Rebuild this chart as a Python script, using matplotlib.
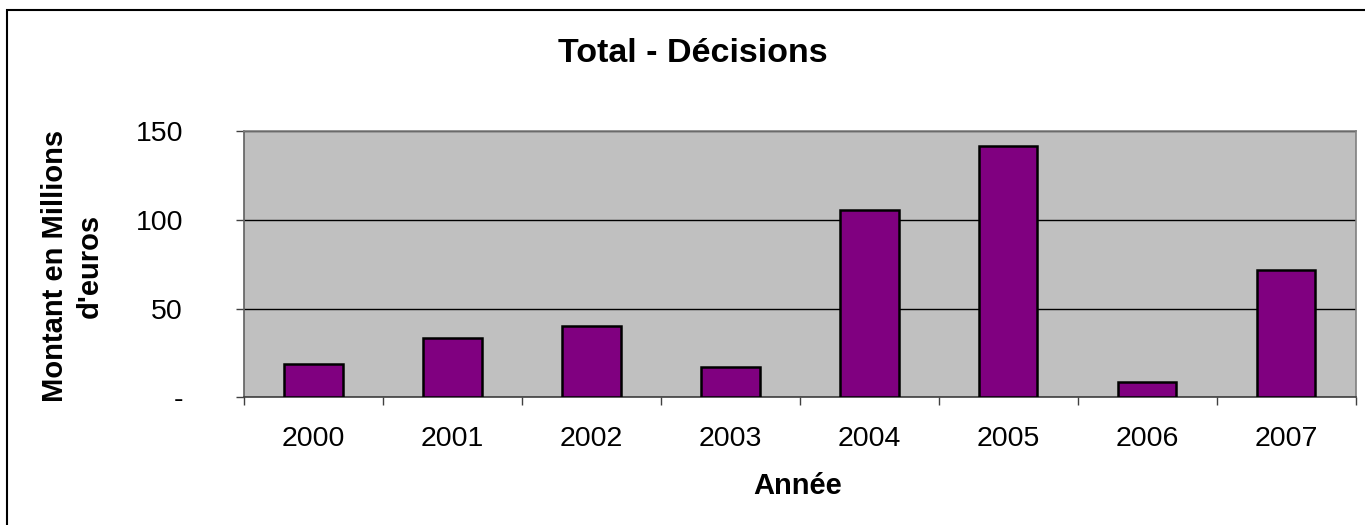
import matplotlib
matplotlib.use("Agg")
import matplotlib.pyplot as plt
from matplotlib.patches import Rectangle

years = ["2000", "2001", "2002", "2003", "2004", "2005", "2006", "2007"]
values = [19.0, 33.6, 40.4, 16.8, 105.7, 141.3, 8.8, 71.7]
y_ticks = [0, 50, 100, 150]
y_tick_labels = ["-", "50", "100", "150"]

plt.rcParams['font.family'] = ['Liberation Sans', 'DejaVu Sans']

W, H = 1365, 525
fig = plt.figure(figsize=(W / 100, H / 100), dpi=100)
fig.patch.set_facecolor("white")

# outer chart frame (extends past right/bottom edges)
fig.patches.append(Rectangle((7 / W, -0.1), 1.2, 1 - 10 / H + 0.1, transform=fig.transFigure,
                             fill=False, edgecolor="black", linewidth=1.5, zorder=0))

ax = fig.add_axes([244 / W, 1 - 397.3 / H, (1355.7 - 244) / W, (397.3 - 131) / H])
ax.set_facecolor("#C0C0C0")

x = list(range(len(years)))
ax.bar(x, values, width=0.42, color="#800080", edgecolor="black", linewidth=1.8, zorder=3)

ax.set_xlim(-0.5, len(years) - 0.5)
ax.set_ylim(0, 150)

# gridlines
ax.set_yticks(y_ticks)
ax.set_yticklabels(y_tick_labels, fontsize=20.5)
ax.yaxis.grid(True, color="black", linewidth=1.0, zorder=1)
ax.set_axisbelow(True)
ax.tick_params(axis="y", direction="out", length=6, width=1, color="#404040", pad=38)
for lbl in ax.get_yticklabels():
    lbl.set_horizontalalignment("right")

# x ticks at boundaries, labels at centers
ax.set_xticks([i - 0.5 for i in range(len(years) + 1)])
ax.set_xticklabels([])
ax.set_xticks(x, minor=True)
ax.set_xticklabels(years, minor=True, fontsize=20.5)
ax.tick_params(axis="x", which="major", direction="out", length=6, width=1, color="#404040")
ax.tick_params(axis="x", which="minor", length=0, pad=21)

for s in ["top", "right"]:
    ax.spines[s].set_color("#808080")
    ax.spines[s].set_linewidth(1.2)
ax.spines["left"].set_color("#606060")
ax.spines["left"].set_linewidth(1.2)
ax.spines["bottom"].set_color("#404040")
ax.spines["bottom"].set_linewidth(1.2)

fig.text(692.5 / W, 1 - 53 / H, "Total - Décisions", ha="center", va="center",
         fontsize=24.5, fontweight="bold")
fig.text(798 / W, 1 - 486 / H, "Année", ha="center", va="center",
         fontsize=21, fontweight="bold")
fig.text(72.5 / W, 1 - 266 / H, "Montant en Millions\nd'euros", ha="center", va="center",
         rotation=90, fontsize=21, fontweight="bold", linespacing=1.3)

fig.savefig("out.png", dpi=100)
